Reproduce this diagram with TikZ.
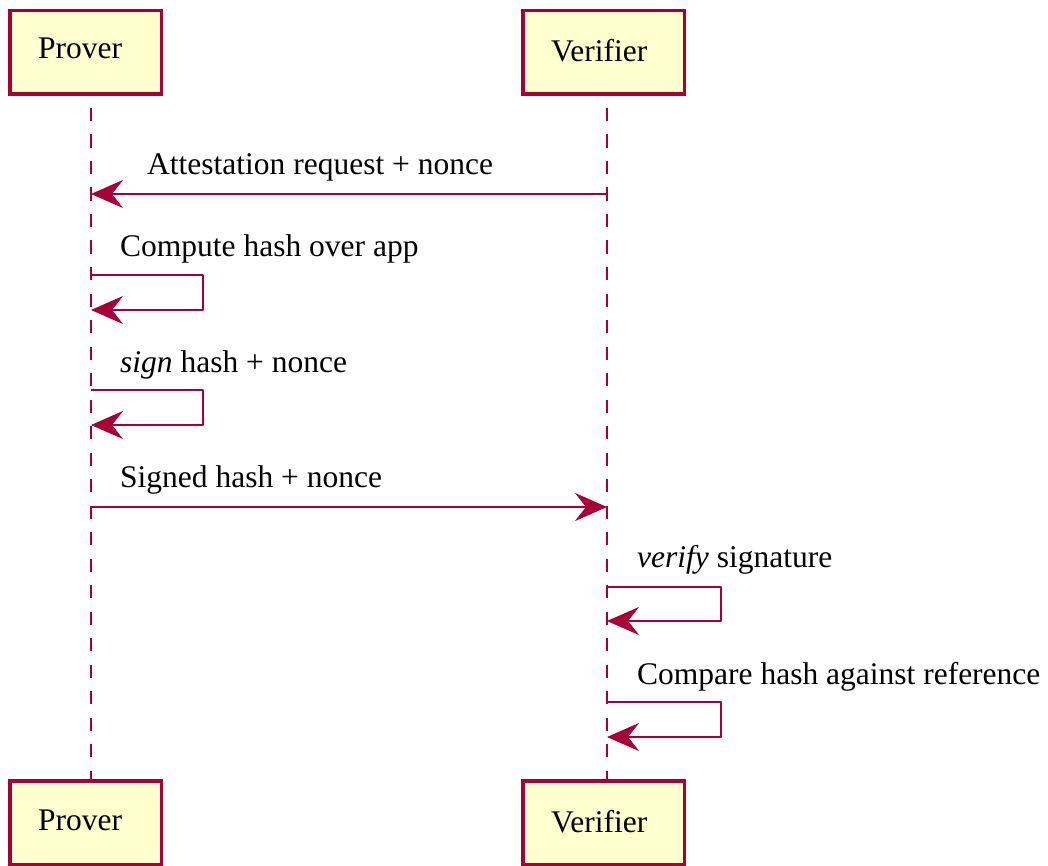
\documentclass[tikz,border=0pt]{standalone}
\usepackage{fontspec}
\setmainfont{Liberation Serif}
\usetikzlibrary{arrows.meta}
\definecolor{pumlred}{HTML}{A80036}
\definecolor{pumlfill}{HTML}{FEFECE}
\tikzset{
  actorbox/.style={draw=pumlred, fill=pumlfill, line width=3.5pt, inner sep=0pt, minimum height=83.5pt},
  lifeline/.style={draw=pumlred, line width=2.5pt, dash pattern=on 13.25pt off 13.25pt},
  msg/.style={draw=pumlred, line width=2.5pt, line join=round, -{Stealth[length=32pt, width=28pt, inset=11pt]}},
  lbl/.style={anchor=base west, inner sep=0pt, font=\fontsize{31.5}{36}\selectfont},
}
\begin{document}
\begin{tikzpicture}[x=1pt, y=-1pt]
\useasboundingbox (0,0) rectangle (1048,866);
% lifelines (drawn under the boxes)
\coordinate (pl1) at (91,108);
\coordinate (pl2) at (91,782);
\coordinate (vl1) at (607,108);
\coordinate (vl2) at (607,782);
\draw[lifeline] (pl1) -- (pl2);
\draw[lifeline] (vl1) -- (vl2);
% participant boxes
\node[actorbox, minimum width=151.5pt] (ptop) at (85.5,52.5) {};
\node[actorbox, minimum width=161.5pt] (vtop) at (603.5,52.5) {};
\node[actorbox, minimum width=151.5pt] (pbot) at (85.5,822.5) {};
\node[actorbox, minimum width=161.5pt] (vbot) at (603.5,822.5) {};
\node[lbl] (ptoplbl) at (38,59) {Prover};
\node[lbl] (vtoplbl) at (551,62) {Verifier};
\node[lbl] (pbotlbl) at (38,830) {Prover};
\node[lbl] (vbotlbl) at (551,832) {Verifier};
% message 1
\coordinate (m1a) at (607,194);
\coordinate (m1b) at (91,194);
\draw[msg] (m1a) -- (m1b);
\node[lbl] (m1l) at (147,175) {Attestation request + nonce};
% message 2 (self)
\coordinate (m2a) at (91,275);
\coordinate (m2b) at (91,310);
\draw[msg] (m2a) -- (203,275) -- (203,310) -- (m2b);
\node[lbl] (m2l) at (120,257) {Compute hash over app};
% message 3 (self)
\coordinate (m3a) at (91,390);
\coordinate (m3b) at (91,425);
\draw[msg] (m3a) -- (203,390) -- (203,425) -- (m3b);
\node[lbl] (m3l) at (120,372) {\textit{sign} hash + nonce};
% message 4
\coordinate (m4a) at (91,507);
\coordinate (m4b) at (607,507);
\draw[msg] (m4a) -- (m4b);
\node[lbl] (m4l) at (120,487) {Signed hash + nonce};
% message 5 (self)
\coordinate (m5a) at (607,587);
\coordinate (m5b) at (607,621);
\draw[msg] (m5a) -- (721,587) -- (721,621) -- (m5b);
\node[lbl] (m5l) at (637,567) {\textit{verify} signature};
% message 6 (self)
\coordinate (m6a) at (607,702);
\coordinate (m6b) at (607,737);
\draw[msg] (m6a) -- (721,702) -- (721,737) -- (m6b);
\node[lbl] (m6l) at (637,684) {Compare hash against reference};
\end{tikzpicture}
\end{document}
